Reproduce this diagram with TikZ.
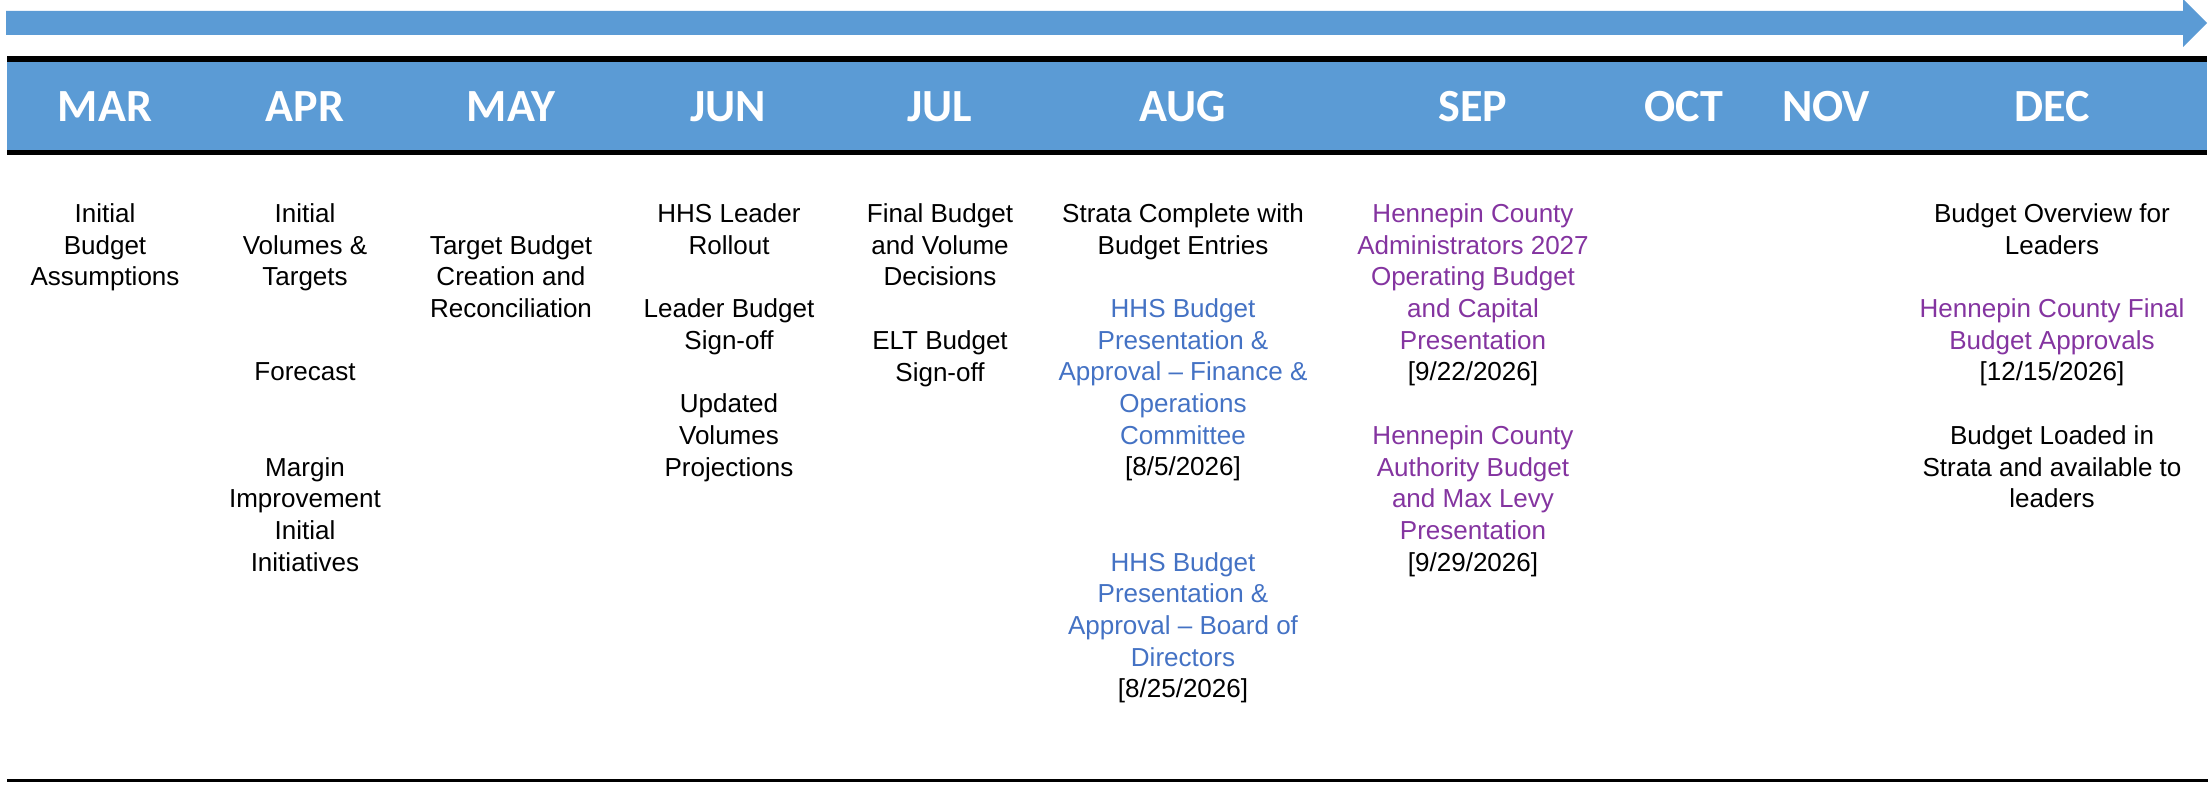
\documentclass[tikz,border=0pt]{standalone}
\usepackage{fontspec}
\setmainfont{Liberation Sans}
\newfontfamily\monthfont{Carlito}

\definecolor{bandblue}{RGB}{91,155,213}
\definecolor{hhsblue}{RGB}{68,114,196}
\definecolor{countypurple}{RGB}{132,52,160}

% y of the top of text row #1 (rows are one line apart)
\newcommand\rowy[1]{203+31.7*#1}
\newcommand\evdate[1]{\textcolor{black}{[#1]}}

\begin{document}
\begin{tikzpicture}[
  x=0.01cm, y=-0.01cm,
  month/.style={font=\monthfont\bfseries\fontsize{13.1}{15}\selectfont,
                text=white, anchor=base, inner sep=0pt},
  evt/.style={font=\fontsize{7.4}{9}\selectfont, align=center,
              anchor=north, inner sep=0pt},
  hhs/.style={evt, text=hhsblue},
  county/.style={evt, text=countypurple},
]
\useasboundingbox (0,0) rectangle (2208,786);

% ── Flèche du temps ──────────────────────────────────────────────────
\fill[bandblue] (6,11) -- (2183,11) -- (2183,-1) -- (2207,23)
  -- (2183,47) -- (2183,35) -- (6,35) -- cycle;

% ── Bandeau des mois ─────────────────────────────────────────────────
\fill[black]    (7,56) rectangle (2207,155);
\fill[bandblue] (7,62) rectangle (2207,150);

\node[month] (mar) at (105,122)  {MAR};
\node[month] (apr) at (305,122)  {APR};
\node[month] (may) at (511,122)  {MAY};
\node[month] (jun) at (728,122)  {JUN};
\node[month] (jul) at (940,122)  {JUL};
\node[month] (aug) at (1183,122) {AUG};
\node[month] (sep) at (1473,122) {SEP};
\node[month] (oct) at (1684,122) {OCT};
\node[month] (nov) at (1826,122) {NOV};
\node[month] (dec) at (2052,122) {DEC};

% ── Mars / avril / mai ───────────────────────────────────────────────
\node[evt] (marInit) at (105,{\rowy{0}}) {Initial\\Budget\\Assumptions};

\node[evt] (aprInit)   at (305,{\rowy{0}}) {Initial\\Volumes \&\\Targets};
\node[evt] (aprFcst)   at (305,{\rowy{5}}) {Forecast};
\node[evt] (aprMargin) at (305,{\rowy{8}}) {Margin\\Improvement\\Initial\\Initiatives};

\node[evt] (mayTarget) at (511,{\rowy{1}}) {Target Budget\\Creation and\\Reconciliation};

% ── Juin / juillet ───────────────────────────────────────────────────
\node[evt] (junRoll) at (729,{\rowy{0}}) {HHS Leader\\Rollout};
\node[evt] (junSign) at (729,{\rowy{3}}) {Leader Budget\\Sign-off};
\node[evt] (junVol)  at (729,{\rowy{6}}) {Updated\\Volumes\\Projections};

\node[evt] (julFinal) at (940,{\rowy{0}}) {Final Budget\\and Volume\\Decisions};
\node[evt] (julSign)  at (940,{\rowy{4}}) {ELT Budget\\Sign-off};

% ── Août (HHS) ───────────────────────────────────────────────────────
\node[evt] (augStrata) at (1183,{\rowy{0}}) {Strata Complete with\\Budget Entries};
\node[hhs] (augFin) at (1183,{\rowy{3}})
  {HHS Budget\\Presentation \&\\Approval – Finance \&\\Operations\\Committee\\\evdate{8/5/2026}};
\node[hhs] (augBoard) at (1183,{\rowy{11}})
  {HHS Budget\\Presentation \&\\Approval – Board of\\Directors\\\evdate{8/25/2026}};

% ── Septembre (comté) ────────────────────────────────────────────────
\node[county] (sepAdmin) at (1473,{\rowy{0}})
  {Hennepin County\\Administrators 2027\\Operating Budget\\and Capital\\Presentation\\\evdate{9/22/2026}};
\node[county] (sepLevy) at (1473,{\rowy{7}})
  {Hennepin County\\Authority Budget\\and Max Levy\\Presentation\\\evdate{9/29/2026}};

% ── Décembre ─────────────────────────────────────────────────────────
\node[evt]    (decOver)  at (2052,{\rowy{0}}) {Budget Overview for\\Leaders};
\node[county] (decFinal) at (2052,{\rowy{3}})
  {Hennepin County Final\\Budget Approvals\\\evdate{12/15/2026}};
\node[evt]    (decLoad)  at (2052,{\rowy{7}}) {Budget Loaded in\\Strata and available to\\leaders};

% ── Trait de fin ─────────────────────────────────────────────────────
\draw[line width=0.03cm] (7,781) -- (2208,781);

\end{tikzpicture}
\end{document}
